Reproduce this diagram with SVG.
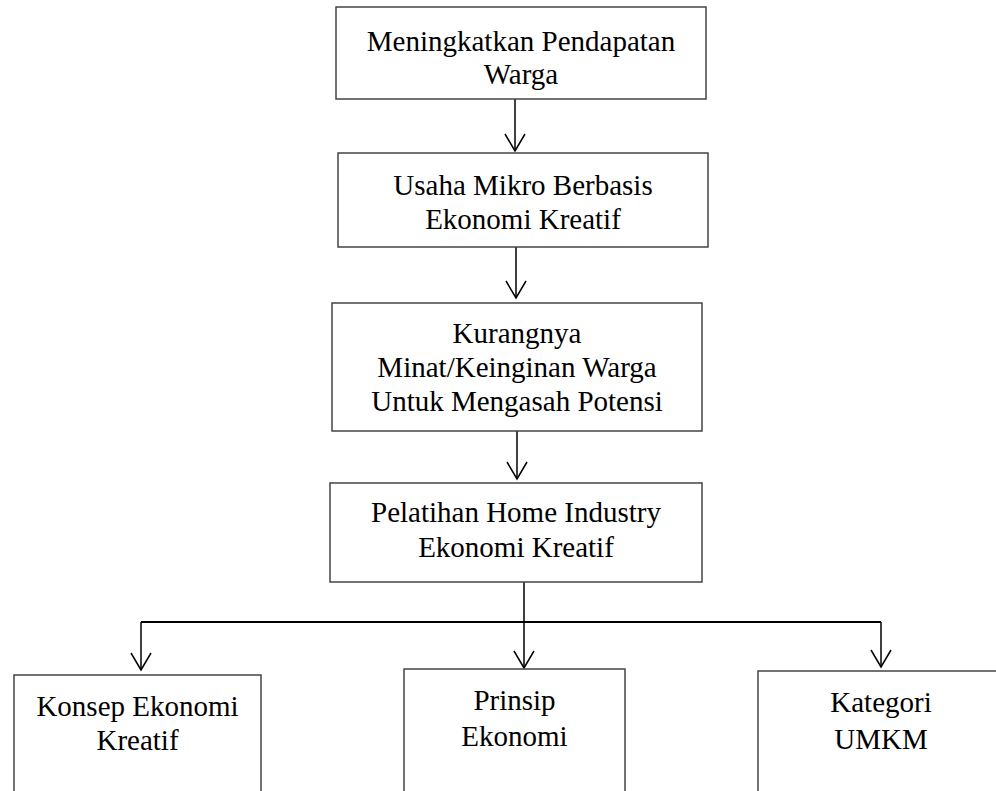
<svg xmlns="http://www.w3.org/2000/svg" width="996" height="791" viewBox="0 0 996 791">
<style>
  .box { fill: #ffffff; stroke: #444444; stroke-width: 1.5; }
  .lbl { font-family: 'Liberation Serif', 'Times New Roman', Times, 'DejaVu Serif', serif; font-size: 29px; fill: #000000; text-anchor: middle; }
  .con { fill: none; stroke: #000000; stroke-width: 1.5; }
  .bar { fill: none; stroke: #000000; stroke-width: 2.2; }
</style>
<defs>
  <marker id="arr" viewBox="-19 -12 21 24" refX="0" refY="0" markerWidth="21" markerHeight="24" markerUnits="userSpaceOnUse" orient="auto">
    <path d="M -17 -10 L 0 0 L -17 10" fill="none" stroke="#000000" stroke-width="1.5"/>
  </marker>
</defs>
<rect width="996" height="791" fill="#ffffff"/>
<g id="connectors">
  <line class="con" x1="515" y1="99" x2="515" y2="151" marker-end="url(#arr)"/>
  <line class="con" x1="516" y1="247" x2="516" y2="298" marker-end="url(#arr)"/>
  <line class="con" x1="517" y1="431" x2="517" y2="479" marker-end="url(#arr)"/>
  <line class="con" x1="524" y1="582" x2="524" y2="668" marker-end="url(#arr)"/>
  <line class="bar" x1="141" y1="622" x2="881" y2="622"/>
  <line class="con" x1="141" y1="622" x2="141" y2="670" marker-end="url(#arr)"/>
  <line class="con" x1="881" y1="622" x2="881" y2="667" marker-end="url(#arr)"/>
</g>
<g id="n1">
  <rect class="box" x="336" y="7" width="370" height="92"/>
  <text class="lbl" x="521" y="51">Meningkatkan Pendapatan</text>
  <text class="lbl" x="521" y="84">Warga</text>
</g>
<g id="n2">
  <rect class="box" x="338" y="153" width="370" height="94"/>
  <text class="lbl" x="523" y="195">Usaha Mikro Berbasis</text>
  <text class="lbl" x="523" y="229">Ekonomi Kreatif</text>
</g>
<g id="n3">
  <rect class="box" x="332" y="303" width="370" height="128"/>
  <text class="lbl" x="517" y="343">Kurangnya</text>
  <text class="lbl" x="517" y="377">Minat/Keinginan Warga</text>
  <text class="lbl" x="517" y="411">Untuk Mengasah Potensi</text>
</g>
<g id="n4">
  <rect class="box" x="330" y="483" width="372" height="99"/>
  <text class="lbl" x="516" y="522">Pelatihan Home Industry</text>
  <text class="lbl" x="516" y="557">Ekonomi Kreatif</text>
</g>
<g id="n5">
  <rect class="box" x="14" y="675" width="247" height="130"/>
  <text class="lbl" x="137.5" y="716">Konsep Ekonomi</text>
  <text class="lbl" x="137.5" y="750">Kreatif</text>
</g>
<g id="n6">
  <rect class="box" x="404" y="669" width="221" height="136"/>
  <text class="lbl" x="514.5" y="710">Prinsip</text>
  <text class="lbl" x="514.5" y="746">Ekonomi</text>
</g>
<g id="n7">
  <rect class="box" x="758" y="671" width="260" height="134"/>
  <text class="lbl" x="881" y="712">Kategori</text>
  <text class="lbl" x="881" y="749">UMKM</text>
</g>
</svg>
